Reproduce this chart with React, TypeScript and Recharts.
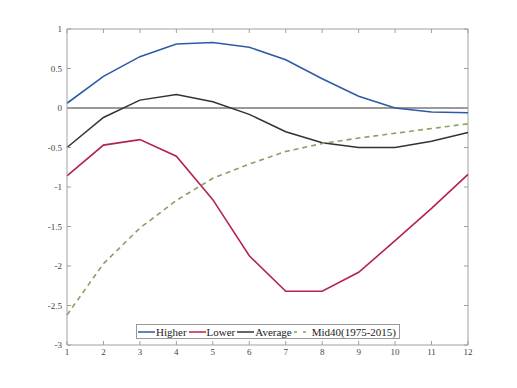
import { LineChart, Line, XAxis, YAxis, ReferenceLine, Legend } from "recharts";

const months = [1, 2, 3, 4, 5, 6, 7, 8, 9, 10, 11, 12];
const higher = [0.06, 0.4, 0.65, 0.81, 0.83, 0.77, 0.61, 0.37, 0.15, 0.0, -0.05, -0.06];
const lower = [-0.86, -0.47, -0.4, -0.61, -1.16, -1.87, -2.32, -2.32, -2.08, -1.68, -1.27, -0.84];
const average = [-0.5, -0.12, 0.1, 0.17, 0.08, -0.08, -0.3, -0.44, -0.5, -0.5, -0.42, -0.31];
const mid40 = [-2.62, -1.97, -1.52, -1.17, -0.89, -0.71, -0.55, -0.45, -0.38, -0.32, -0.26, -0.2];
const yTicks = [-3, -2.5, -2, -1.5, -1, -0.5, 0, 0.5, 1];

const data = months.map((m, i) => ({
  x: m,
  higher: higher[i],
  lower: lower[i],
  average: average[i],
  mid40: mid40[i],
}));

const TOP = 29;
const BOTTOM = 345;
const LEFT = 67;
const RIGHT = 468;
const AXIS = "#a0a0a0";
const FONT = "'Liberation Serif', 'Times New Roman', serif";

const XTick = ({ x, y, payload }: any) => (
  <g>
    <line x1={x} x2={x} y1={BOTTOM} y2={BOTTOM - 4} stroke={AXIS} />
    <line x1={x} x2={x} y1={TOP} y2={TOP + 4} stroke={AXIS} />
    <text x={x} y={y} dy={10} textAnchor="middle" fontSize={9} fontFamily={FONT} fill="#444">
      {payload.value}
    </text>
  </g>
);

const YTick = ({ x, y, payload }: any) => (
  <g>
    <line x1={LEFT} x2={LEFT + 4} y1={y} y2={y} stroke={AXIS} />
    <line x1={RIGHT} x2={RIGHT - 4} y1={y} y2={y} stroke={AXIS} />
    <text x={x - 5} y={y} dy={3} textAnchor="end" fontSize={9} fontFamily={FONT} fill="#444">
      {payload.value}
    </text>
  </g>
);

const legendItems = [
  { name: "Higher", color: "#2f5aa8", dash: undefined },
  { name: "Lower", color: "#b4234e", dash: undefined },
  { name: "Average", color: "#333333", dash: undefined },
  { name: "Mid40(1975-2015)", color: "#8c9f63", dash: "3 6" },
];

const LegendBox = () => (
  <div
    style={{
      border: "1px solid #999",
      background: "#fff",
      display: "flex",
      alignItems: "center",
      height: 13,
      padding: "0 1px",
      fontFamily: FONT,
      fontSize: 11,
      color: "#222",
      whiteSpace: "nowrap",
    }}
  >
    {legendItems.map((it) => (
      <span key={it.name} style={{ display: "flex", alignItems: "center", marginRight: 2 }}>
        <svg width={17} height={6} style={{ marginRight: 1 }}>
          <line x1={0} x2={17} y1={3} y2={3} stroke={it.color} strokeWidth={1.5} strokeDasharray={it.dash} />
        </svg>
        {it.name}
      </span>
    ))}
  </div>
);

export default function App() {
  return (
    <div style={{ position: "absolute", left: 0, top: 0, background: "#fff" }}>
      <LineChart width={517} height={388} data={data} margin={{ top: TOP, right: 517 - RIGHT, bottom: 23, left: 37 }}>
        <XAxis
          dataKey="x"
          type="number"
          domain={[1, 12]}
          ticks={months}
          height={20}
          tickSize={0}
          tickMargin={0}
          stroke={AXIS}
          tick={<XTick />}
        />
        <YAxis
          type="number"
          domain={[-3, 1]}
          ticks={yTicks}
          width={30}
          tickSize={0}
          tickMargin={0}
          stroke={AXIS}
          tick={<YTick />}
        />
        <ReferenceLine y={1} stroke={AXIS} />
        <ReferenceLine x={12} stroke={AXIS} />
        <ReferenceLine y={0} stroke="#777" strokeWidth={1.5} />
        <Line dataKey="higher" name="Higher" stroke="#2f5aa8" strokeWidth={1.6} dot={false} isAnimationActive={false} />
        <Line dataKey="lower" name="Lower" stroke="#b4234e" strokeWidth={1.6} dot={false} isAnimationActive={false} />
        <Line dataKey="average" name="Average" stroke="#333333" strokeWidth={1.5} dot={false} isAnimationActive={false} />
        <Line
          dataKey="mid40"
          name="Mid40(1975-2015)"
          stroke="#8c9f63"
          strokeWidth={1.6}
          strokeDasharray="5 4"
          dot={false}
          isAnimationActive={false}
        />
        <Legend
          layout="horizontal"
          verticalAlign="middle"
          align="center"
          content={<LegendBox />}
          wrapperStyle={{ left: 136, top: 324, width: "auto", height: 15 }}
        />
      </LineChart>
    </div>
  );
}
